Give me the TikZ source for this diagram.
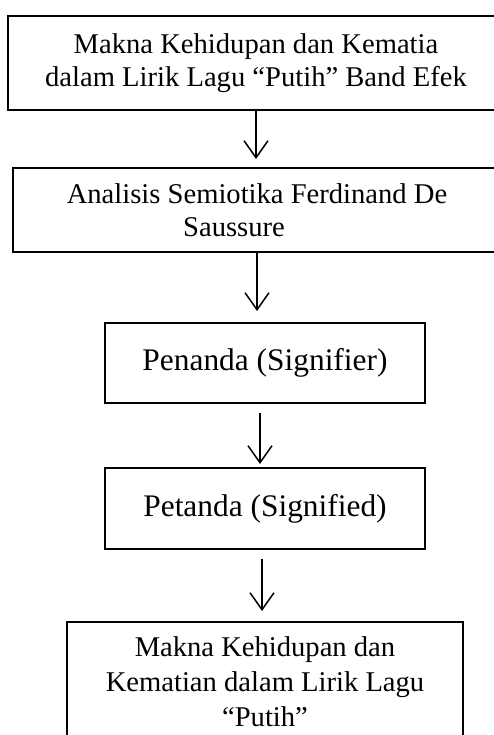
\documentclass[tikz,border=0pt]{standalone}
\usepackage{fontspec}
\setmainfont{Liberation Serif}
\usetikzlibrary{arrows.meta}
\begin{document}
\begin{tikzpicture}[x=1pt,y=-1pt,
    kotak/.style={draw,line width=2pt,align=center,inner sep=0pt,
      font=\fontsize{28.6}{33}\selectfont},
    besar/.style={font=\fontsize{31.4}{36}\selectfont},
    panah/.style={line width=1.5pt,-{Straight Barb[length=17pt,width=24pt]}}]
  \useasboundingbox (0,0) rectangle (494,735);
  \clip (0,0) rectangle (494,735);
  \node[kotak,minimum width=496pt,minimum height=94pt] (judul) at (256,63)
    {Makna Kehidupan dan Kematia\\dalam Lirik Lagu ``Putih'' Band Efek};
  \node[kotak,minimum width=488pt,minimum height=84pt] (analisis) at (257,210)
    {Analisis Semiotika Ferdinand De\\Saussure\hspace*{46pt}};
  \node[kotak,besar,minimum width=320pt,minimum height=80pt] (penanda) at (265,363)
    {Penanda (Signifier)};
  \node[kotak,besar,minimum width=320pt,minimum height=81pt] (petanda) at (265,508.5)
    {Petanda (Signified)};
  \node[kotak,minimum width=396pt,minimum height=120pt,
    font=\fontsize{28.6}{35}\selectfont] (makna) at (265,682)
    {Makna Kehidupan dan\\Kematian dalam Lirik Lagu\\``Putih''};
  \draw[panah,shorten >=8pt] (judul.south) -- (judul.south |- analisis.north);
  \draw[panah,shorten >=11pt] (analisis.south) -- (analisis.south |- penanda.north);
  \draw[panah,shorten <=9pt,shorten >=3pt] ([xshift=-5pt]penanda.south) -- ([xshift=-5pt]petanda.north);
  \draw[panah,shorten <=9pt,shorten >=10pt] ([xshift=-3pt]petanda.south) -- ([xshift=-3pt]makna.north);
\end{tikzpicture}
\end{document}
